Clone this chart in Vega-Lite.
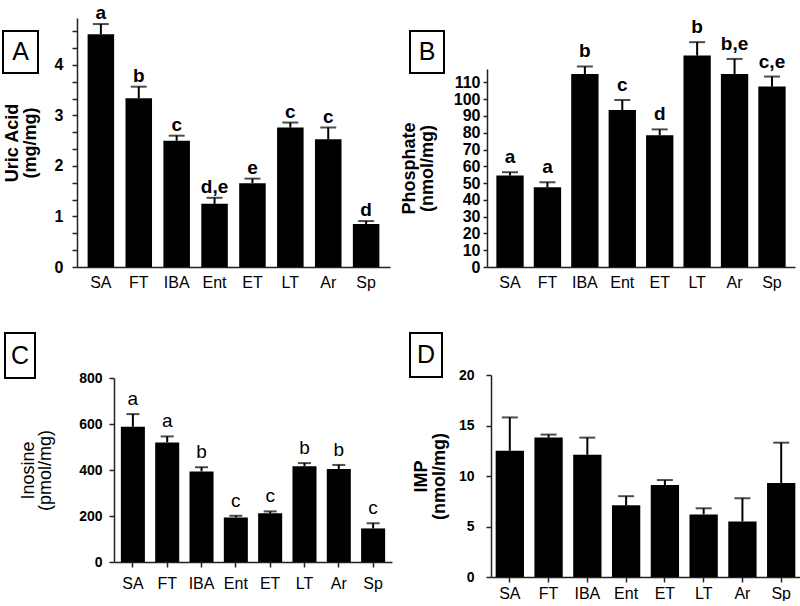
{
  "$schema": "https://vega.github.io/schema/vega-lite/v6.json",
  "padding": {"left": 2, "top": 4, "right": 0, "bottom": 0},
  "background": "white",
  "config": {
    "font": "Liberation Sans",
    "view": {"stroke": null},
    "axis": {"grid": false, "domainColor": "#222", "domainWidth": 1.5, "tickColor": "#222", "tickWidth": 1.5, "labelColor": "black", "titleColor": "black", "labelFont": "Liberation Sans", "titleFont": "Liberation Sans"}
  },
  "datasets": {
    "uric": [
      {"tissue": "SA", "value": 4.61, "err": 4.81, "label": "a"},
      {"tissue": "FT", "value": 3.34, "err": 3.57, "label": "b"},
      {"tissue": "IBA", "value": 2.5, "err": 2.6, "label": "c"},
      {"tissue": "Ent", "value": 1.25, "err": 1.37, "label": "d,e"},
      {"tissue": "ET", "value": 1.66, "err": 1.75, "label": "e"},
      {"tissue": "LT", "value": 2.76, "err": 2.86, "label": "c"},
      {"tissue": "Ar", "value": 2.53, "err": 2.76, "label": "c"},
      {"tissue": "Sp", "value": 0.85, "err": 0.91, "label": "d"}
    ],
    "phos": [
      {"tissue": "SA", "value": 54.5, "err": 56.5, "label": "a"},
      {"tissue": "FT", "value": 47.5, "err": 50.5, "label": "a"},
      {"tissue": "IBA", "value": 115, "err": 119.5, "label": "b"},
      {"tissue": "Ent", "value": 93.5, "err": 99.5, "label": "c"},
      {"tissue": "ET", "value": 78.5, "err": 82, "label": "d"},
      {"tissue": "LT", "value": 126, "err": 134, "label": "b"},
      {"tissue": "Ar", "value": 115, "err": 124, "label": "b,e"},
      {"tissue": "Sp", "value": 107.5, "err": 113.5, "label": "c,e"}
    ],
    "inos": [
      {"tissue": "SA", "value": 588, "err": 643, "label": "a"},
      {"tissue": "FT", "value": 520, "err": 546, "label": "a"},
      {"tissue": "IBA", "value": 394, "err": 412, "label": "b"},
      {"tissue": "Ent", "value": 194, "err": 201, "label": "c"},
      {"tissue": "ET", "value": 212, "err": 220, "label": "c"},
      {"tissue": "LT", "value": 416, "err": 430, "label": "b"},
      {"tissue": "Ar", "value": 404, "err": 422, "label": "b"},
      {"tissue": "Sp", "value": 146, "err": 168, "label": "c"}
    ],
    "imp": [
      {"tissue": "SA", "value": 12.5, "err": 15.8},
      {"tissue": "FT", "value": 13.8, "err": 14.1},
      {"tissue": "IBA", "value": 12.1, "err": 13.8},
      {"tissue": "Ent", "value": 7.1, "err": 8.0},
      {"tissue": "ET", "value": 9.1, "err": 9.6},
      {"tissue": "LT", "value": 6.2, "err": 6.8},
      {"tissue": "Ar", "value": 5.5, "err": 7.8},
      {"tissue": "Sp", "value": 9.3, "err": 13.3}
    ],
    "panels": [{"panel": "A"}]
  },
  "vconcat": [
    {
      "hconcat": [
        {
          "width": 54, "height": 55,
          "data": {"values": [{"panel": "A"}]},
          "layer": [
            {"mark": {"type": "rect", "filled": false, "color": "black", "strokeWidth": 2},
             "encoding": {
               "x": {"datum": 0, "type": "quantitative", "scale": {"domain": [0, 1], "range": [0, 35], "nice": false, "zero": false}, "axis": null},
               "x2": {"datum": 1},
               "y": {"datum": 0, "type": "quantitative", "scale": {"domain": [0, 1], "range": [55, 13], "nice": false, "zero": false}, "axis": null},
               "y2": {"datum": 1}}},
            {"mark": {"type": "text", "fontSize": 25, "color": "black", "baseline": "middle"},
             "encoding": {"x": {"datum": 0.5, "type": "quantitative"}, "y": {"datum": 0.5, "type": "quantitative"}, "text": {"field": "panel"}}}
          ]
        },
        {
          "width": 313, "height": 249,
          "data": {"name": "uric"},
          "encoding": {
            "x": {"field": "tissue", "type": "nominal", "sort": null, "scale": {"paddingInner": 0.3, "paddingOuter": 0.28},
                  "axis": {"title": null, "labelAngle": 0, "ticks": false, "labelFontSize": 16, "labelPadding": 7}}
          },
          "layer": [
            {"mark": {"type": "bar", "color": "black"},
             "encoding": {"y": {"field": "value", "type": "quantitative", "scale": {"domain": [0, 4.93], "nice": false},
               "axis": {"title": ["Uric Acid", "(mg/mg)"], "titleFontSize": 18, "titleFontWeight": "bold", "titleLineHeight": 18, "titlePadding": 15,
                        "values": [0, 0.3333, 0.6667, 1, 1.3333, 1.6667, 2, 2.3333, 2.6667, 3, 3.3333, 3.6667, 4, 4.3333, 4.6667],
                        "labelExpr": "datum.value % 1 === 0 ? format(datum.value, 'd') : ''", "labelFontSize": 16, "labelFontWeight": "bold", "labelPadding": 9, "tickSize": 5, "labelOverlap": false}}}},
            {"mark": {"type": "rule", "strokeWidth": 2, "color": "black"},
             "encoding": {"y": {"field": "value", "type": "quantitative",
               "axis": {"title": ["Uric Acid", "(mg/mg)"], "titleFontSize": 18, "titleFontWeight": "bold", "titleLineHeight": 18, "titlePadding": 15,
                        "values": [0, 0.3333, 0.6667, 1, 1.3333, 1.6667, 2, 2.3333, 2.6667, 3, 3.3333, 3.6667, 4, 4.3333, 4.6667],
                        "labelExpr": "datum.value % 1 === 0 ? format(datum.value, 'd') : ''", "labelFontSize": 16, "labelFontWeight": "bold", "labelPadding": 9, "tickSize": 5, "labelOverlap": false}},
               "y2": {"field": "err"}}},
            {"mark": {"type": "tick", "size": 16, "thickness": 2, "color": "black"},
             "encoding": {"y": {"field": "err", "type": "quantitative",
               "axis": {"title": ["Uric Acid", "(mg/mg)"], "titleFontSize": 18, "titleFontWeight": "bold", "titleLineHeight": 18, "titlePadding": 15,
                        "values": [0, 0.3333, 0.6667, 1, 1.3333, 1.6667, 2, 2.3333, 2.6667, 3, 3.3333, 3.6667, 4, 4.3333, 4.6667],
                        "labelExpr": "datum.value % 1 === 0 ? format(datum.value, 'd') : ''", "labelFontSize": 16, "labelFontWeight": "bold", "labelPadding": 9, "tickSize": 5, "labelOverlap": false}}}},
            {"mark": {"type": "text", "fontSize": 19, "fontWeight": "bold", "baseline": "alphabetic", "dy": -5, "color": "black"},
             "encoding": {"y": {"field": "err", "type": "quantitative",
               "axis": {"title": ["Uric Acid", "(mg/mg)"], "titleFontSize": 18, "titleFontWeight": "bold", "titleLineHeight": 18, "titlePadding": 15,
                        "values": [0, 0.3333, 0.6667, 1, 1.3333, 1.6667, 2, 2.3333, 2.6667, 3, 3.3333, 3.6667, 4, 4.3333, 4.6667],
                        "labelExpr": "datum.value % 1 === 0 ? format(datum.value, 'd') : ''", "labelFontSize": 16, "labelFontWeight": "bold", "labelPadding": 9, "tickSize": 5, "labelOverlap": false}},
               "text": {"field": "label"}}}
          ]
        },
        {
          "width": 57, "height": 55,
          "data": {"values": [{"panel": "B"}]},
          "layer": [
            {"mark": {"type": "rect", "filled": false, "color": "black", "strokeWidth": 2},
             "encoding": {
               "x": {"datum": 0, "type": "quantitative", "scale": {"domain": [0, 1], "range": [0, 34], "nice": false, "zero": false}, "axis": null},
               "x2": {"datum": 1},
               "y": {"datum": 0, "type": "quantitative", "scale": {"domain": [0, 1], "range": [55, 13], "nice": false, "zero": false}, "axis": null},
               "y2": {"datum": 1}}},
            {"mark": {"type": "text", "fontSize": 25, "color": "black", "baseline": "middle"},
             "encoding": {"x": {"datum": 0.5, "type": "quantitative"}, "y": {"datum": 0.5, "type": "quantitative"}, "text": {"field": "panel"}}}
          ]
        },
        {
          "width": 308, "height": 249,
          "data": {"name": "phos"},
          "encoding": {
            "x": {"field": "tissue", "type": "nominal", "sort": null, "scale": {"paddingInner": 0.27, "paddingOuter": 0.25},
                  "axis": {"title": null, "labelAngle": 0, "ticks": false, "labelFontSize": 16, "labelPadding": 7}}
          },
          "layer": [
            {"mark": {"type": "bar", "color": "black"},
             "encoding": {"y": {"field": "value", "type": "quantitative", "scale": {"domain": [0, 118], "range": [249, 51], "nice": false},
               "axis": {"title": ["Phosphate", "(nmol/mg)"], "titleFontSize": 18, "titleFontWeight": "bold", "titleLineHeight": 18, "titlePadding": 17,
                        "values": [0, 10, 20, 30, 40, 50, 60, 70, 80, 90, 100, 110],
                        "labelFontSize": 16, "labelFontWeight": "bold", "labelPadding": 3, "tickSize": 4, "labelOverlap": false}}}},
            {"mark": {"type": "rule", "strokeWidth": 2, "color": "black"},
             "encoding": {"y": {"field": "value", "type": "quantitative",
               "axis": {"title": ["Phosphate", "(nmol/mg)"], "titleFontSize": 18, "titleFontWeight": "bold", "titleLineHeight": 18, "titlePadding": 17,
                        "values": [0, 10, 20, 30, 40, 50, 60, 70, 80, 90, 100, 110],
                        "labelFontSize": 16, "labelFontWeight": "bold", "labelPadding": 3, "tickSize": 4, "labelOverlap": false}},
               "y2": {"field": "err"}}},
            {"mark": {"type": "tick", "size": 16, "thickness": 2, "color": "black"},
             "encoding": {"y": {"field": "err", "type": "quantitative",
               "axis": {"title": ["Phosphate", "(nmol/mg)"], "titleFontSize": 18, "titleFontWeight": "bold", "titleLineHeight": 18, "titlePadding": 17,
                        "values": [0, 10, 20, 30, 40, 50, 60, 70, 80, 90, 100, 110],
                        "labelFontSize": 16, "labelFontWeight": "bold", "labelPadding": 3, "tickSize": 4, "labelOverlap": false}}}},
            {"mark": {"type": "text", "fontSize": 19, "fontWeight": "bold", "baseline": "alphabetic", "dy": -9, "color": "black"},
             "encoding": {"y": {"field": "err", "type": "quantitative",
               "axis": {"title": ["Phosphate", "(nmol/mg)"], "titleFontSize": 18, "titleFontWeight": "bold", "titleLineHeight": 18, "titlePadding": 17,
                        "values": [0, 10, 20, 30, 40, 50, 60, 70, 80, 90, 100, 110],
                        "labelFontSize": 16, "labelFontWeight": "bold", "labelPadding": 3, "tickSize": 4, "labelOverlap": false}},
               "text": {"field": "label"}}}
          ]
        }
      ],
      "spacing": 20, "bounds": "flush"
    },
    {
      "hconcat": [
        {
          "width": 93, "height": 46,
          "data": {"values": [{"panel": "C"}]},
          "layer": [
            {"mark": {"type": "rect", "filled": false, "color": "black", "strokeWidth": 2},
             "encoding": {
               "x": {"datum": 0, "type": "quantitative", "scale": {"domain": [0, 1], "range": [2, 32], "nice": false, "zero": false}, "axis": null},
               "x2": {"datum": 1},
               "y": {"datum": 0, "type": "quantitative", "scale": {"domain": [0, 1], "range": [46, 1], "nice": false, "zero": false}, "axis": null},
               "y2": {"datum": 1}}},
            {"mark": {"type": "text", "fontSize": 25, "color": "black", "baseline": "middle"},
             "encoding": {"x": {"datum": 0.5, "type": "quantitative"}, "y": {"datum": 0.5, "type": "quantitative"}, "text": {"field": "panel"}}}
          ]
        },
        {
          "width": 278, "height": 230,
          "data": {"name": "inos"},
          "encoding": {
            "x": {"field": "tissue", "type": "nominal", "sort": null, "scale": {"paddingInner": 0.3, "paddingOuter": 0.2},
                  "axis": {"title": null, "labelAngle": 0, "ticks": true, "tickSize": 5, "labelFontSize": 16, "labelPadding": 8}}
          },
          "layer": [
            {"mark": {"type": "bar", "color": "black"},
             "encoding": {"y": {"field": "value", "type": "quantitative", "scale": {"domain": [0, 800], "range": [230, 46], "nice": false},
               "axis": {"title": ["Inosine", "(pmol/mg)"], "titleFontSize": 18, "titleFontWeight": "normal", "titleLineHeight": 17, "titlePadding": 24,
                        "values": [0, 200, 400, 600, 800], "labelFontSize": 14, "labelFontWeight": "bold", "labelPadding": 7, "tickSize": 5, "labelOverlap": false}}}},
            {"mark": {"type": "rule", "strokeWidth": 2, "color": "black"},
             "encoding": {"y": {"field": "value", "type": "quantitative",
               "axis": {"title": ["Inosine", "(pmol/mg)"], "titleFontSize": 18, "titleFontWeight": "normal", "titleLineHeight": 17, "titlePadding": 24,
                        "values": [0, 200, 400, 600, 800], "labelFontSize": 14, "labelFontWeight": "bold", "labelPadding": 7, "tickSize": 5, "labelOverlap": false}},
               "y2": {"field": "err"}}},
            {"mark": {"type": "tick", "size": 13, "thickness": 2, "color": "black"},
             "encoding": {"y": {"field": "err", "type": "quantitative",
               "axis": {"title": ["Inosine", "(pmol/mg)"], "titleFontSize": 18, "titleFontWeight": "normal", "titleLineHeight": 17, "titlePadding": 24,
                        "values": [0, 200, 400, 600, 800], "labelFontSize": 14, "labelFontWeight": "bold", "labelPadding": 7, "tickSize": 5, "labelOverlap": false}}}},
            {"mark": {"type": "text", "fontSize": 19, "fontWeight": "normal", "baseline": "alphabetic", "dy": -9, "color": "black"},
             "encoding": {"y": {"field": "err", "type": "quantitative",
               "axis": {"title": ["Inosine", "(pmol/mg)"], "titleFontSize": 18, "titleFontWeight": "normal", "titleLineHeight": 17, "titlePadding": 24,
                        "values": [0, 200, 400, 600, 800], "labelFontSize": 14, "labelFontWeight": "bold", "labelPadding": 7, "tickSize": 5, "labelOverlap": false}},
               "text": {"field": "label"}}}
          ]
        },
        {
          "width": 63, "height": 45,
          "data": {"values": [{"panel": "D"}]},
          "layer": [
            {"mark": {"type": "rect", "filled": false, "color": "black", "strokeWidth": 2},
             "encoding": {
               "x": {"datum": 0, "type": "quantitative", "scale": {"domain": [0, 1], "range": [0, 32], "nice": false, "zero": false}, "axis": null},
               "x2": {"datum": 1},
               "y": {"datum": 0, "type": "quantitative", "scale": {"domain": [0, 1], "range": [45, 1], "nice": false, "zero": false}, "axis": null},
               "y2": {"datum": 1}}},
            {"mark": {"type": "text", "fontSize": 25, "color": "black", "baseline": "middle"},
             "encoding": {"x": {"datum": 0.5, "type": "quantitative"}, "y": {"datum": 0.5, "type": "quantitative"}, "text": {"field": "panel"}}}
          ]
        },
        {
          "width": 309, "height": 245,
          "data": {"name": "imp"},
          "encoding": {
            "x": {"field": "tissue", "type": "nominal", "sort": null, "scale": {"paddingInner": 0.27, "paddingOuter": 0.12},
                  "axis": {"title": null, "labelAngle": 0, "ticks": true, "tickSize": 5, "labelFontSize": 16, "labelPadding": 3}}
          },
          "layer": [
            {"mark": {"type": "bar", "color": "black"},
             "encoding": {"y": {"field": "value", "type": "quantitative", "scale": {"domain": [0, 20], "range": [245, 43], "nice": false},
               "axis": {"title": ["IMP", "(nmol/mg)"], "titleFontSize": 18, "titleFontWeight": "bold", "titleLineHeight": 18, "titlePadding": 10,
                        "values": [0, 5, 10, 15, 20], "labelFontSize": 14, "labelFontWeight": "bold", "labelPadding": 12, "tickSize": 5, "labelOverlap": false}}}},
            {"mark": {"type": "rule", "strokeWidth": 2, "color": "black"},
             "encoding": {"y": {"field": "value", "type": "quantitative",
               "axis": {"title": ["IMP", "(nmol/mg)"], "titleFontSize": 18, "titleFontWeight": "bold", "titleLineHeight": 18, "titlePadding": 10,
                        "values": [0, 5, 10, 15, 20], "labelFontSize": 14, "labelFontWeight": "bold", "labelPadding": 12, "tickSize": 5, "labelOverlap": false}},
               "y2": {"field": "err"}}},
            {"mark": {"type": "tick", "size": 16, "thickness": 2, "color": "black"},
             "encoding": {"y": {"field": "err", "type": "quantitative",
               "axis": {"title": ["IMP", "(nmol/mg)"], "titleFontSize": 18, "titleFontWeight": "bold", "titleLineHeight": 18, "titlePadding": 10,
                        "values": [0, 5, 10, 15, 20], "labelFontSize": 14, "labelFontWeight": "bold", "labelPadding": 12, "tickSize": 5, "labelOverlap": false}}}}
          ]
        }
      ],
      "spacing": 18, "bounds": "flush"
    }
  ],
  "spacing": 42
}
